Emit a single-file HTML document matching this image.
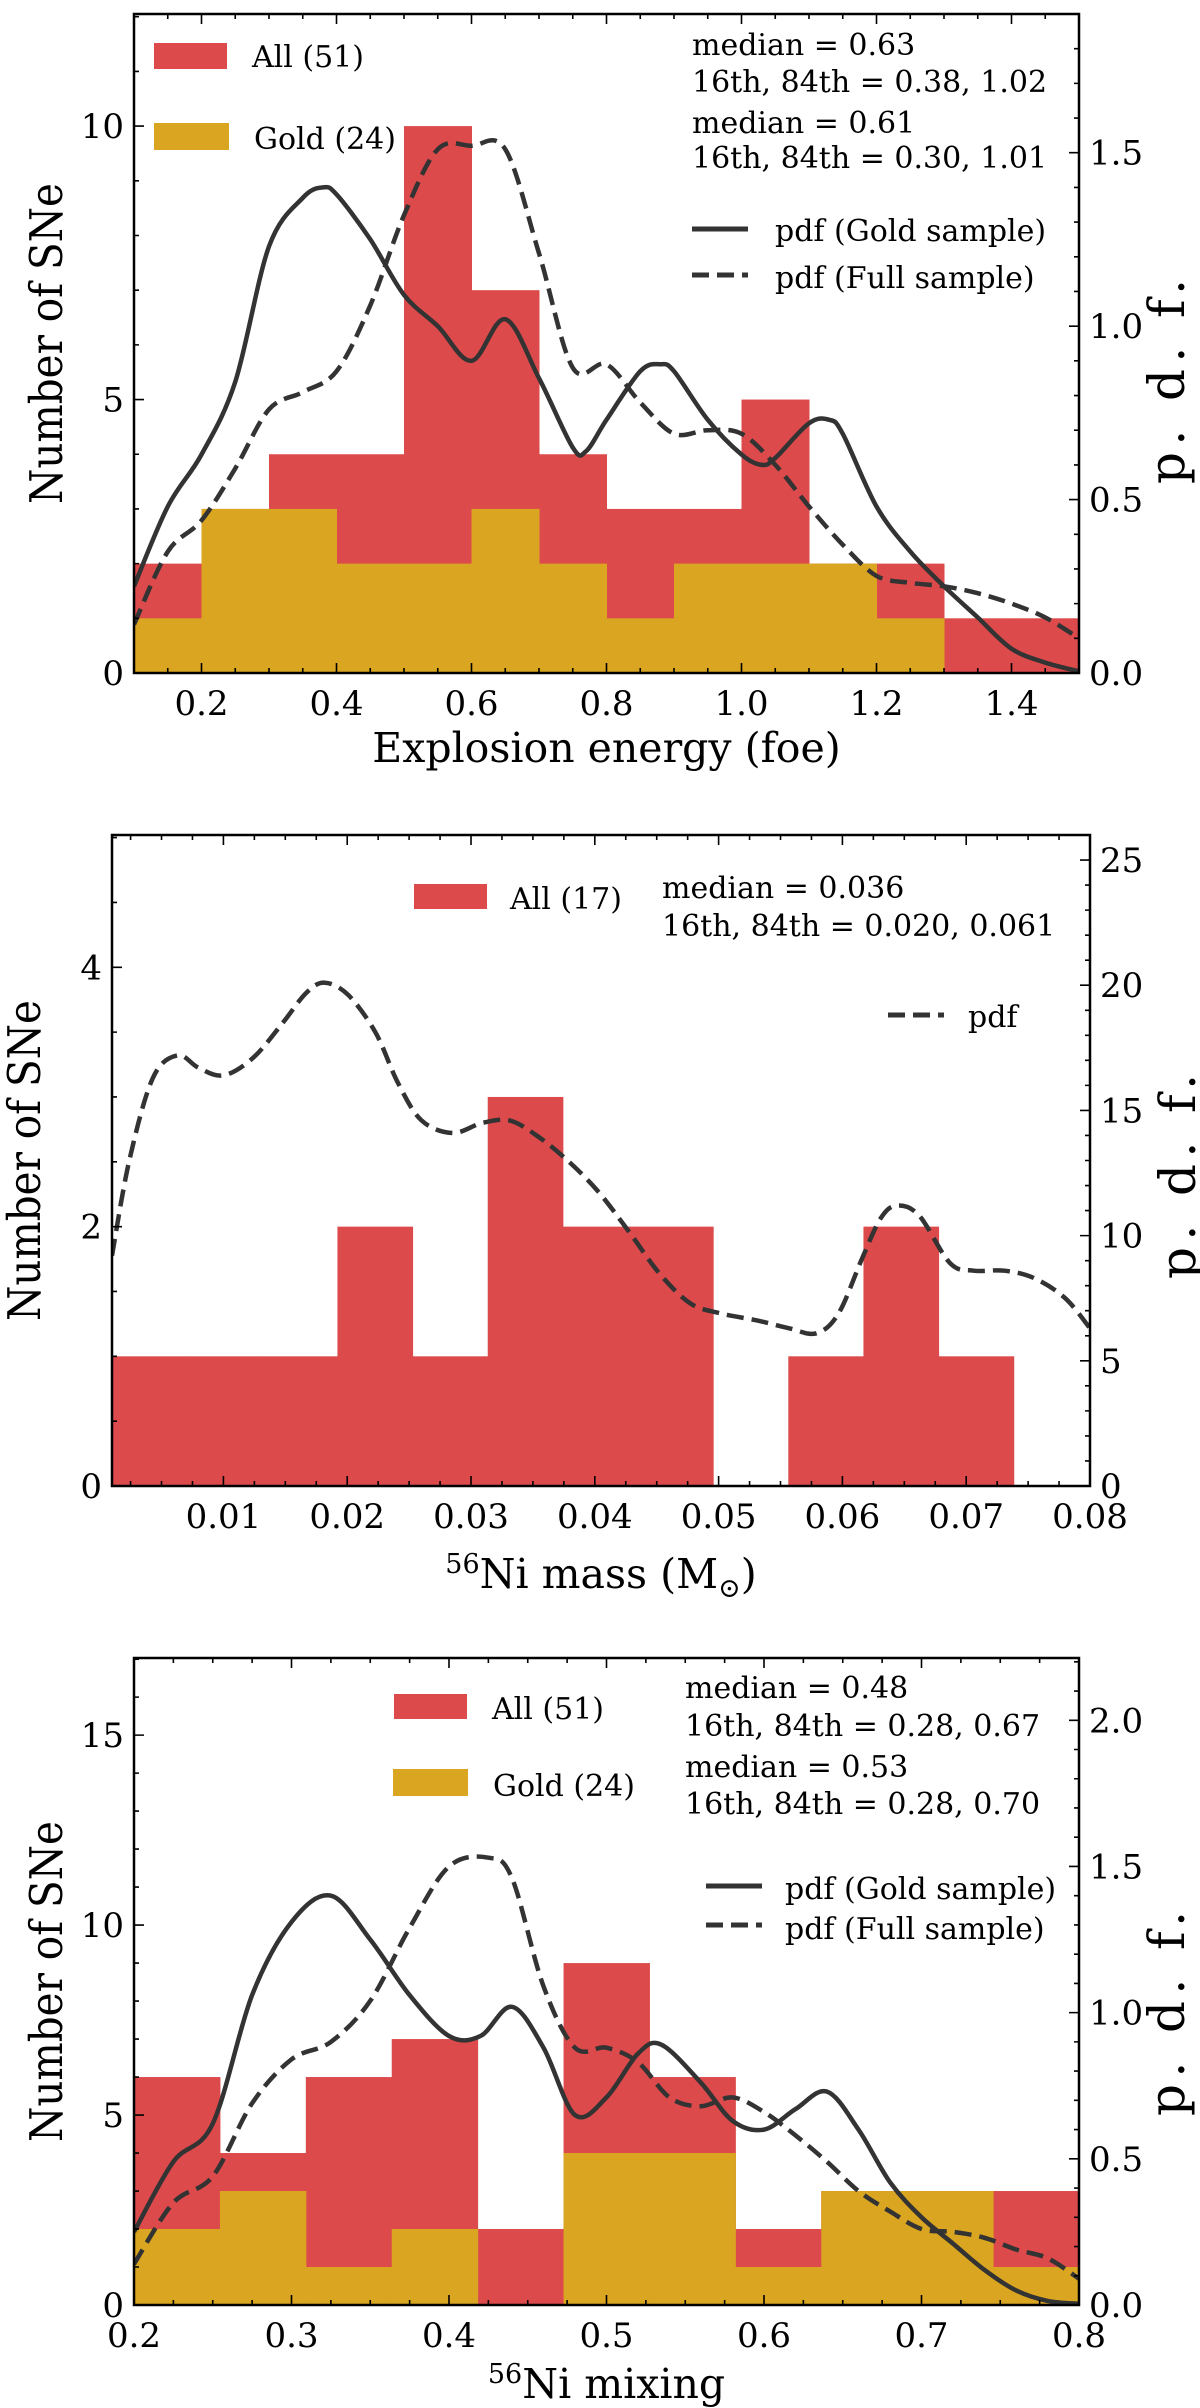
<!DOCTYPE html>
<html><head><meta charset="utf-8">
<style>
html,body{margin:0;padding:0;background:#fff;}
svg{display:block;font-family:"DejaVu Serif","Liberation Serif",serif;}
</style></head>
<body>
<svg id="fig" width="1200" height="2408" viewBox="0 0 1200 2408" xmlns="http://www.w3.org/2000/svg"></svg>
<script>
// ---------- Panel 1: explosion energy ----------
const p1Edges = [0.1,0.2,0.3,0.4,0.5,0.6,0.7,0.8,0.9,1.0,1.1,1.2,1.3,1.4,1.5];
const p1All = [2,3,4,4,10,7,4,3,3,5,2,2,1,1];
const p1Gold = [1,3,3,2,2,3,2,1,2,2,2,1,0,0];
const p1GoldX = [0.1,0.15,0.2,0.25,0.3,0.35,0.38,0.4,0.45,0.5,0.55,0.6,0.65,0.7,0.75,0.77,0.8,0.85,0.88,0.9,0.95,1.0,1.03,1.05,1.1,1.13,1.15,1.2,1.25,1.3,1.35,1.4,1.45,1.5];
const p1GoldY = [0.25,0.48,0.63,0.84,1.23,1.37,1.40,1.38,1.25,1.09,1.0,0.90,1.02,0.85,0.65,0.64,0.73,0.87,0.89,0.87,0.73,0.63,0.60,0.62,0.72,0.73,0.69,0.48,0.35,0.25,0.16,0.07,0.03,0.005];
const p1FullX = [0.1,0.15,0.2,0.25,0.3,0.35,0.4,0.45,0.5,0.55,0.6,0.65,0.7,0.75,0.8,0.85,0.9,0.95,1.0,1.05,1.1,1.15,1.2,1.25,1.3,1.35,1.4,1.45,1.5];
const p1FullY = [0.14,0.35,0.44,0.59,0.76,0.81,0.87,1.06,1.32,1.51,1.52,1.51,1.21,0.88,0.89,0.78,0.69,0.70,0.69,0.60,0.48,0.37,0.28,0.26,0.25,0.23,0.20,0.16,0.10];
const p1XTicks = [0.2,0.4,0.6,0.8,1.0,1.2,1.4];
const p1XTickLabels = ["0.2","0.4","0.6","0.8","1.0","1.2","1.4"];
const p1YTicks = [0,5,10];
const p1Y2Ticks = [0,0.5,1.0,1.5];
const p1Y2TickLabels = ["0.0","0.5","1.0","1.5"];

// ---------- Panel 2: Ni mass ----------
const p2Edges = [0.001,0.00707,0.01314,0.01921,0.02528,0.03135,0.03742,0.04349,0.04956,0.05563,0.0617,0.06777,0.07384];
const p2All = [1,1,1,2,1,3,2,2,0,1,2,1];
const p2PdfX = [0.001,0.0024,0.0043,0.0063,0.008,0.01,0.0124,0.0148,0.0167,0.0182,0.0201,0.0223,0.0241,0.026,0.0285,0.0309,0.0331,0.0353,0.0378,0.0402,0.0427,0.0452,0.0477,0.0501,0.0532,0.0557,0.0579,0.0597,0.0616,0.0631,0.0644,0.0662,0.0687,0.0706,0.0731,0.0755,0.078,0.08];
const p2PdfY = [9.2,13.0,16.3,17.2,16.7,16.4,17.1,18.5,19.7,20.1,19.6,18.1,16.1,14.6,14.1,14.5,14.6,14.0,13.0,11.8,10.2,8.5,7.3,6.9,6.6,6.3,6.1,6.9,9.1,10.7,11.2,10.8,8.9,8.6,8.6,8.3,7.5,6.3];
const p2XTicks = [0.01,0.02,0.03,0.04,0.05,0.06,0.07,0.08];
const p2XTickLabels = ["0.01","0.02","0.03","0.04","0.05","0.06","0.07","0.08"];
const p2YTicks = [0,2,4];
const p2Y2Ticks = [0,5,10,15,20,25];

// ---------- Panel 3: Ni mixing ----------
const p3Edges = [0.2,0.25455,0.30909,0.36364,0.41818,0.47273,0.52727,0.58182,0.63636,0.69091,0.74545,0.8];
const p3All = [6,4,6,7,2,9,6,2,3,3,3];
const p3Gold = [2,3,1,2,0,4,4,1,3,3,1];
const p3GoldX = [0.2,0.225,0.25,0.275,0.3,0.325,0.35,0.375,0.4,0.42,0.44,0.46,0.48,0.5,0.52,0.535,0.56,0.58,0.6,0.62,0.64,0.66,0.68,0.7,0.72,0.74,0.76,0.78,0.8];
const p3GoldY = [0.25,0.49,0.62,1.06,1.31,1.40,1.25,1.06,0.92,0.92,1.02,0.88,0.65,0.71,0.86,0.89,0.76,0.63,0.60,0.67,0.73,0.60,0.42,0.30,0.21,0.12,0.05,0.014,0.004];
const p3FullX = [0.2,0.225,0.25,0.275,0.3,0.325,0.35,0.375,0.4,0.425,0.44,0.46,0.48,0.5,0.52,0.54,0.56,0.58,0.6,0.62,0.64,0.66,0.68,0.7,0.72,0.74,0.76,0.78,0.8];
const p3FullY = [0.14,0.35,0.44,0.69,0.84,0.90,1.04,1.29,1.50,1.53,1.46,1.09,0.88,0.88,0.83,0.71,0.68,0.71,0.66,0.58,0.49,0.39,0.32,0.26,0.25,0.23,0.19,0.16,0.09];
const p3XTicks = [0.2,0.3,0.4,0.5,0.6,0.7,0.8];
const p3XTickLabels = ["0.2","0.3","0.4","0.5","0.6","0.7","0.8"];
const p3YTicks = [0,5,10,15];
const p3Y2Ticks = [0,0.5,1.0,1.5,2.0];
const p3Y2TickLabels = ["0.0","0.5","1.0","1.5","2.0"];

const NS = "http://www.w3.org/2000/svg";
const fig = document.getElementById('fig');
const RED = "#dc4a4b", GOLD = "#daa520", INK = "#333333";

function mk(parent, tag, attrs) {
  const el = document.createElementNS(NS, tag);
  for (const k in attrs) el.setAttribute(k, attrs[k]);
  parent.appendChild(el);
  return el;
}
function smoothPath(pts) {
  let d = "M" + pts[0][0].toFixed(1) + "," + pts[0][1].toFixed(1);
  for (let i = 0; i < pts.length - 1; i++) {
    const p0 = pts[Math.max(0, i - 1)], p1 = pts[i], p2 = pts[i + 1], p3 = pts[Math.min(pts.length - 1, i + 2)];
    const c1x = p1[0] + (p2[0] - p0[0]) / 6, c1y = p1[1] + (p2[1] - p0[1]) / 6;
    const c2x = p2[0] - (p3[0] - p1[0]) / 6, c2y = p2[1] - (p3[1] - p1[1]) / 6;
    d += " C" + c1x.toFixed(1) + "," + c1y.toFixed(1) + " " + c2x.toFixed(1) + "," + c2y.toFixed(1) + " " + p2[0].toFixed(1) + "," + p2[1].toFixed(1);
  }
  return d;
}

function drawPanel(c) {
  const g = mk(fig, 'g', {});
  
  
  const sx = v => c.L + (v - c.xmin) / (c.xmax - c.xmin) * (c.R - c.L);
  const sy = v => c.B - v / c.ymax * (c.B - c.T);
  const sy2 = v => c.B - v / c.y2max * (c.B - c.T);
  const clip = 'clip-' + c.name;
  const defs = mk(g, 'defs', {});
  const cp = mk(defs, 'clipPath', {id: clip});
  mk(cp, 'rect', {x: c.L, y: c.T, width: c.R - c.L, height: c.B - c.T});
  const plot = mk(g, 'g', {'clip-path': 'url(#' + clip + ')'});

  const hists = [[c.all, RED, 'bar-all'], [c.gold, GOLD, 'bar-gold']];
  for (const [arr, col, nm] of hists) {
    if (!arr) continue;
    for (let i = 0; i < arr.length; i++) {
      if (arr[i] <= 0) continue;
      const x0 = sx(c.edges[i]), x1 = sx(c.edges[i + 1]);
      const r = mk(plot, 'rect', {x: x0, y: sy(arr[i]), width: x1 - x0 + 0.5, height: c.B - sy(arr[i]), fill: col});
      
      
    }
  }
  if (c.goldX) {
    const p = mk(plot, 'path', {d: smoothPath(c.goldX.map((x, i) => [sx(x), sy2(c.goldY[i])])), fill: 'none', stroke: INK, 'stroke-width': 4.5});
    
    
  }
  if (c.fullX) {
    const p = mk(plot, 'path', {d: smoothPath(c.fullX.map((x, i) => [sx(x), sy2(c.fullY[i])])), fill: 'none', stroke: INK, 'stroke-width': 4.5, 'stroke-dasharray': '17,8'});
    
    
  }
  const fr = mk(g, 'rect', {x: c.L, y: c.T, width: c.R - c.L, height: c.B - c.T, fill: 'none', stroke: '#000', 'stroke-width': 2.5});
  
  

  const tk = mk(g, 'g', {stroke: '#000', 'stroke-width': 1.6});
  
  
  let d = "";
  for (let v = Math.ceil((c.xmin - 1e-9) / c.xminor) * c.xminor; v <= c.xmax + 1e-9; v += c.xminor) {
    const X = sx(v);
    const isMaj = c.xticks.some(t => Math.abs(t - v) < c.xminor * 0.1);
    const len = isMaj ? 10 : 5;
    d += `M${X},${c.B}v${-len}M${X},${c.T}v${len}`;
  }
  for (let v = 0; v <= c.ymax + 1e-9; v += c.yminor) {
    const Y = sy(v);
    const isMaj = c.yticks.some(t => Math.abs(t - v) < c.yminor * 0.1);
    d += `M${c.L},${Y}h${isMaj ? 10 : 5}`;
  }
  for (let v = 0; v <= c.y2max + 1e-9; v += c.y2minor) {
    const Y = sy2(v);
    const isMaj = c.y2ticks.some(t => Math.abs(t - v) < c.y2minor * 0.1);
    d += `M${c.R},${Y}h${isMaj ? -10 : -5}`;
  }
  mk(tk, 'path', {d: d});

  const txt = (x, y, s, size, anchor, nm, extra) => {
    const t = mk(g, 'text', Object.assign({x: x, y: y, 'font-size': size, 'text-anchor': anchor, fill: '#000'}, extra || {}));
    t.textContent = s;
    
    
    return t;
  };
  c.xticks.forEach((v, i) => txt(sx(v), c.B + 42, c.xlabels[i], 34, 'middle', 'x-tick-label'));
  c.yticks.forEach((v, i) => txt(c.L - 10, sy(v) + 12, String(v), 34, 'end', 'y-tick-label'));
  c.y2ticks.forEach((v, i) => txt(c.R + 10, sy2(v) + 12, c.y2labels[i], 34, 'start', 'y2-tick-label'));
  txt(0, 0, 'Number of SNe', 45, 'middle', 'y-axis-title', {transform: `translate(${c.L - 72},${(c.T + c.B) / 2}) rotate(-90)`, textLength: 321, lengthAdjust: 'spacingAndGlyphs'});
  txt(0, 0, 'p. d. f.', 50, 'middle', 'y2-axis-title', {transform: `translate(${c.R + 105},${(c.T + c.B) / 2 + c.pdfOff}) rotate(-90)`, textLength: 205, lengthAdjust: 'spacing'});
  const xl = txt((c.L + c.R) / 2, c.xlabelY, '', 41, 'middle', 'x-axis-title');
  xl.innerHTML = c.xlabelHTML;
  return {g, txt};
}

const P1 = drawPanel({name: 'panel-energy', L: 134, R: 1079, T: 14, B: 673, xmin: 0.1, xmax: 1.5, ymax: 12.05, y2max: 1.9, pdfOff: 38,
  edges: p1Edges, all: p1All, gold: p1Gold, goldX: p1GoldX, goldY: p1GoldY, fullX: p1FullX, fullY: p1FullY,
  xticks: p1XTicks, xlabels: p1XTickLabels, xminor: 0.05, yticks: p1YTicks, yminor: 1, y2ticks: p1Y2Ticks, y2labels: p1Y2TickLabels, y2minor: 0.1,
  xlabelY: 762, xlabelHTML: 'Explosion energy (foe)'});
const P2 = drawPanel({name: 'panel-ni-mass', L: 112, R: 1090, T: 835, B: 1486, xmin: 0.001, xmax: 0.08, ymax: 5.02, y2max: 26, pdfOff: 16,
  edges: p2Edges, all: p2All, fullX: p2PdfX, fullY: p2PdfY,
  xticks: p2XTicks, xlabels: p2XTickLabels, xminor: 0.0025, yticks: p2YTicks, yminor: 0.5, y2ticks: p2Y2Ticks, y2labels: p2Y2Ticks.map(String), y2minor: 1,
  xlabelY: 1588, xlabelHTML: '<tspan font-size="27" dy="-15">56</tspan><tspan dy="15">Ni mass (M</tspan><tspan font-size="27" dy="9">⊙</tspan><tspan dy="-9">)</tspan>'});
const P3 = drawPanel({name: 'panel-ni-mixing', L: 134, R: 1079, T: 1658, B: 2305, xmin: 0.2, xmax: 0.8, ymax: 17.03, y2max: 2.213, pdfOff: 32,
  edges: p3Edges, all: p3All, gold: p3Gold, goldX: p3GoldX, goldY: p3GoldY, fullX: p3FullX, fullY: p3FullY,
  xticks: p3XTicks, xlabels: p3XTickLabels, xminor: 0.025, yticks: p3YTicks, yminor: 1, y2ticks: p3Y2Ticks, y2labels: p3Y2TickLabels, y2minor: 0.1,
  xlabelY: 2398, xlabelHTML: '<tspan font-size="27" dy="-15">56</tspan><tspan dy="15">Ni mixing</tspan>'});

function patch(g, x, y, w, h, col, nm) {
  const r = mk(g, 'rect', {x: x, y: y, width: w, height: h, fill: col});
  
  
}
function lineKey(g, x, y, dashed, nm) {
  const l = mk(g, 'line', {x1: x, y1: y, x2: x + 56, y2: y, stroke: INK, 'stroke-width': 5});
  if (dashed) l.setAttribute('stroke-dasharray', '17,8');
  
  
}
const FS = 30;
patch(P1.g, 154, 43, 73, 26, RED, 'legend-all-swatch');
P1.txt(252, 67, 'All (51)', FS, 'start', 'legend-all-label');
patch(P1.g, 154, 123, 75, 27, GOLD, 'legend-gold-swatch');
P1.txt(254, 149, 'Gold (24)', FS, 'start', 'legend-gold-label');
P1.txt(692, 55, 'median = 0.63', FS, 'start', 'stats-all-median');
P1.txt(692, 92, '16th, 84th = 0.38, 1.02', FS, 'start', 'stats-all-percentiles');
P1.txt(692, 133, 'median = 0.61', FS, 'start', 'stats-gold-median');
P1.txt(692, 168, '16th, 84th = 0.30, 1.01', FS, 'start', 'stats-gold-percentiles');
lineKey(P1.g, 692, 229, false, 'legend-pdf-gold-key');
P1.txt(775, 241, 'pdf (Gold sample)', FS, 'start', 'legend-pdf-gold-label');
lineKey(P1.g, 692, 275, true, 'legend-pdf-full-key');
P1.txt(775, 288, 'pdf (Full sample)', FS, 'start', 'legend-pdf-full-label');
patch(P2.g, 414, 884, 73, 25, RED, 'legend-all-swatch');
P2.txt(510, 909, 'All (17)', FS, 'start', 'legend-all-label');
P2.txt(662, 898, 'median = 0.036', FS, 'start', 'stats-median');
P2.txt(662, 936, '16th, 84th = 0.020, 0.061', FS, 'start', 'stats-percentiles');
lineKey(P2.g, 888, 1015, true, 'legend-pdf-key');
P2.txt(968, 1027, 'pdf', FS, 'start', 'legend-pdf-label');
patch(P3.g, 394, 1694, 73, 25, RED, 'legend-all-swatch');
P3.txt(492, 1719, 'All (51)', FS, 'start', 'legend-all-label');
patch(P3.g, 393, 1769, 75, 27, GOLD, 'legend-gold-swatch');
P3.txt(493, 1796, 'Gold (24)', FS, 'start', 'legend-gold-label');
P3.txt(685, 1698, 'median = 0.48', FS, 'start', 'stats-all-median');
P3.txt(685, 1736, '16th, 84th = 0.28, 0.67', FS, 'start', 'stats-all-percentiles');
P3.txt(685, 1777, 'median = 0.53', FS, 'start', 'stats-gold-median');
P3.txt(685, 1814, '16th, 84th = 0.28, 0.70', FS, 'start', 'stats-gold-percentiles');
lineKey(P3.g, 706, 1886, false, 'legend-pdf-gold-key');
P3.txt(785, 1899, 'pdf (Gold sample)', FS, 'start', 'legend-pdf-gold-label');
lineKey(P3.g, 706, 1925, true, 'legend-pdf-full-key');
P3.txt(785, 1939, 'pdf (Full sample)', FS, 'start', 'legend-pdf-full-label');
</script>
</body></html>
